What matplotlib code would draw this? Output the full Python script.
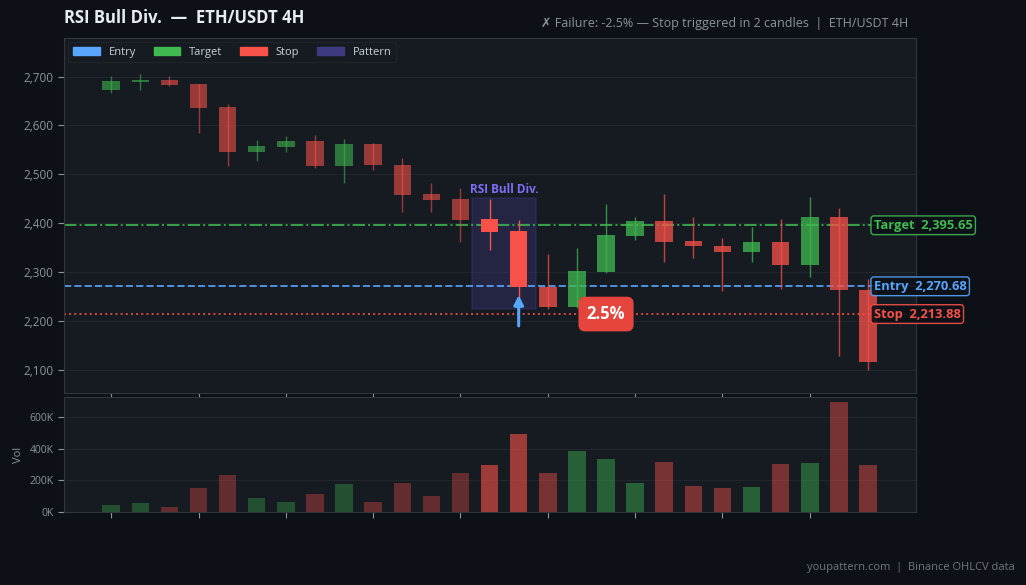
import numpy as np
import matplotlib.pyplot as plt
from matplotlib.patches import Rectangle, Patch
from matplotlib.ticker import FuncFormatter

plt.rcParams['font.family'] = ['Open Sans', 'DejaVu Sans']

# Data
opens  = [2672, 2689, 2694, 2684, 2637, 2545, 2555, 2569, 2517, 2563, 2520, 2459, 2449,
          2408, 2383, 2270, 2228, 2300, 2374, 2404, 2363, 2354, 2340, 2361, 2314, 2412, 2264]
highs  = [2701, 2705, 2702, 2685, 2643, 2570, 2578, 2580, 2573, 2565, 2533, 2482, 2471,
          2449, 2406, 2336, 2350, 2440, 2412, 2459, 2412, 2369, 2393, 2408, 2453, 2430, 2285]
lows   = [2666, 2672, 2680, 2584, 2516, 2528, 2545, 2512, 2483, 2509, 2423, 2423, 2361,
          2345, 2226, 2224, 2226, 2298, 2365, 2320, 2328, 2261, 2320, 2266, 2289, 2127, 2099]
closes = [2690, 2694, 2683, 2635, 2545, 2557, 2569, 2516, 2563, 2519, 2457, 2448, 2406,
          2382, 2270, 2228, 2301, 2375, 2404, 2361, 2353, 2341, 2361, 2314, 2412, 2263, 2115]
volumes = [46, 59, 34, 155, 237, 91, 66, 116, 180, 66, 186, 104, 250,
           301, 492, 250, 390, 339, 186, 320, 167, 155, 161, 307, 314, 695, 295]
volumes = [v * 1000 for v in volumes]

pattern_idx = [13, 14]
entry = 2270.68
target = 2395.65
stop = 2213.88
pattern_name = "RSI Bull Div."
result_pct = "2.5%"

# Colours
BG = '#0d1117'
PANEL = '#161b22'
GRID = '#21262d'
SPINE = '#30363d'
TXT = '#8b949e'
UP = '#3fb950'
DOWN = '#f85149'
BLUE = '#58a6ff'
PAT = '#3d3a80'

fig = plt.figure(figsize=(10.26, 5.85), dpi=100, facecolor=BG)
ax = fig.add_axes([0.0624, 0.328, 0.8304, 0.607])
axv = fig.add_axes([0.0624, 0.1248, 0.8304, 0.1966])

for a in (ax, axv):
    a.set_facecolor(PANEL)
    for s in a.spines.values():
        s.set_color(SPINE)
    a.tick_params(colors=TXT, labelsize=8.5, length=4)
    a.grid(axis='y', color=GRID, lw=0.8)
    a.set_axisbelow(True)

n = len(opens)
x = np.arange(n)
w = 0.6
for i in range(n):
    up = closes[i] >= opens[i]
    col = UP if up else DOWN
    if i in pattern_idx:
        alpha, valpha = 1.0, 0.6
    elif i < pattern_idx[0]:
        alpha, valpha = 0.58, 0.34
    else:
        alpha, valpha = 0.76, 0.44
    ax.vlines(x[i], lows[i], highs[i], color=col, lw=1, alpha=alpha, zorder=3)
    lo = min(opens[i], closes[i])
    h = max(abs(closes[i] - opens[i]), 1.5)
    ax.add_patch(Rectangle((x[i] - w / 2, lo), w, h, facecolor=col, edgecolor='none',
                           alpha=alpha, zorder=4))
    axv.bar(x[i], volumes[i], width=w, color=col, alpha=valpha, zorder=3)

# pattern box
p0, p1 = pattern_idx[0], pattern_idx[-1]
plo = min(lows[p0:p1 + 1]) * 0.999
phi = max(highs[p0:p1 + 1]) * 1.001
ax.add_patch(Rectangle((p0 - 0.6, plo), (p1 - p0) + 1.2, phi - plo, facecolor=PAT,
                       edgecolor=PAT, alpha=0.35, lw=1.2, zorder=2))
ax.text((p0 + p1) / 2, phi + 5, pattern_name, color='#7d6ef5', fontsize=8.5,
        fontweight='bold', ha='center', va='bottom', zorder=6)

# levels
ax.axhline(target, color=UP, ls='-.', lw=1.4, alpha=0.85, zorder=2)
ax.axhline(entry, color=BLUE, ls='--', lw=1.4, alpha=0.85, zorder=2)
ax.axhline(stop, color=DOWN, ls=':', lw=1.4, alpha=0.85, zorder=2)

for lvl, name, col in [(target, 'Target', UP), (entry, 'Entry', BLUE), (stop, 'Stop', DOWN)]:
    ax.text(n - 0.8, lvl, f"{name}  {lvl:,.2f}", color=col, fontsize=9.3, fontweight='bold',
            ha='left', va='center', zorder=7, clip_on=False,
            bbox=dict(boxstyle='round,pad=0.22', facecolor=BG, edgecolor=col, lw=1, alpha=0.9))

# entry arrow
ax.annotate('', xy=(p1, entry - 18), xytext=(p1, entry - 81),
            arrowprops=dict(arrowstyle='-|>', color=BLUE, lw=2.2, mutation_scale=14,
                            shrinkA=0, shrinkB=0), zorder=6)

# result badge
ax.text(p1 + 3, stop, result_pct, color='white', fontsize=12, fontweight='bold',
        ha='center', va='center', zorder=8,
        bbox=dict(boxstyle='round,pad=0.5,rounding_size=0.4', facecolor='#e5453d',
                  edgecolor='none'))

ax.set_xlim(-1.62, 27.65)
axv.set_xlim(-1.62, 27.65)
ax.set_ylim(2052, 2779)
ax.set_yticks(np.arange(2100, 2701, 100))
ax.yaxis.set_major_formatter(FuncFormatter(lambda v, p: f"{v:,.0f}"))
ticks = np.arange(0, n - 2, 3)
ax.set_xticks(ticks)
ax.set_xticklabels([])
axv.set_xticks(ticks)
axv.set_xticklabels([])

axv.set_ylim(0, max(volumes) * 1.05)
axv.set_yticks([0, 200000, 400000, 600000])
axv.yaxis.set_major_formatter(FuncFormatter(lambda v, p: f"{v / 1000:.0f}K"))
axv.set_ylabel('Vol', color=TXT, fontsize=8)
axv.tick_params(labelsize=7.5)

handles = [Patch(color=BLUE, label='Entry'), Patch(color=UP, label='Target'),
           Patch(color=DOWN, label='Stop'), Patch(color=PAT, label='Pattern')]
leg = ax.legend(handles=handles, loc='upper left', ncol=4, fontsize=8, frameon=True,
                facecolor=PANEL, edgecolor=GRID, labelcolor='#c9d1d9',
                handlelength=2.4, handleheight=0.6, columnspacing=1.6,
                borderaxespad=0.4)
leg.set_zorder(10)

fig.text(0.0624, 0.97, "RSI Bull Div.  —  ETH/USDT 4H", color='#e6edf3', fontsize=12,
         fontweight='bold', ha='left', va='center')
fig.text(0.885, 0.96, "✗ Failure: -2.5% — Stop triggered in 2 candles  |  ETH/USDT 4H",
         color=TXT, fontsize=9, ha='right', va='center')
fig.text(0.989, 0.03, "youpattern.com  |  Binance OHLCV data", color='#6e7681',
         fontsize=8, ha='right', va='center')

fig.savefig('out.png', dpi=100, facecolor=BG)
